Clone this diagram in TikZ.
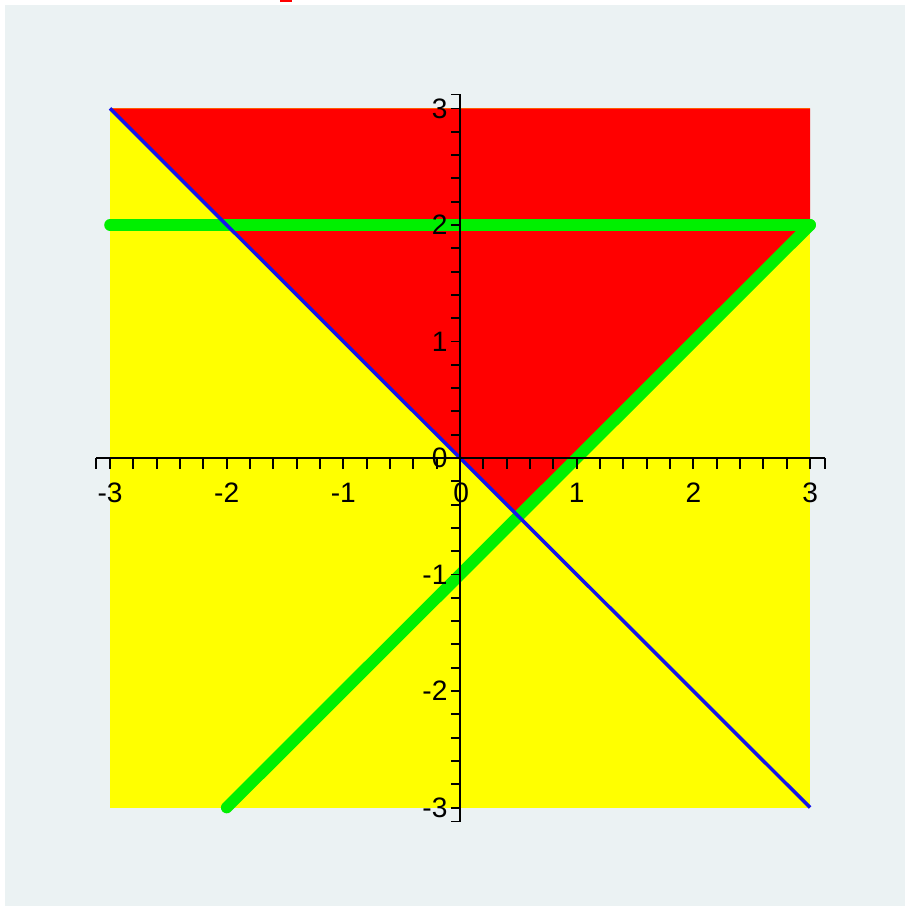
\documentclass[tikz,border=0pt]{standalone}
\usepackage{fontspec}
\setmainfont{Liberation Sans}
\definecolor{plotbg}{RGB}{235,242,243}
\definecolor{plotred}{RGB}{255,0,0}
\definecolor{plotyellow}{RGB}{255,255,0}
\definecolor{plotgreen}{RGB}{0,240,0}
\definecolor{plotblue}{RGB}{20,20,235}

\begin{document}
\begin{tikzpicture}[x=2.3333cm,y=2.33cm,
  greenline/.style={draw=plotgreen,line width=6.6pt,line cap=round},
  axisline/.style={draw=black,line width=1.1pt},
  ticklab/.style={font=\fontsize{16}{16}\selectfont,inner sep=0pt,text=black}]
\useasboundingbox (-3.943,-3.845) rectangle (3.806,3.931);
\fill[white] (-3.943,-3.845) rectangle (3.806,3.931);
\fill[plotbg] (-3.900,-3.95) rectangle (3.90,3.888);
\fill[plotred] (-1.543,3.914) rectangle (-1.440,3.931);

% regions
\fill[plotyellow] (-3,-3) rectangle (3,3);
\fill[plotred] (-3,3) -- (3,3) -- (3,2) -- (0.5,-0.5) -- cycle;

% lines
\draw[greenline] (-3,2) -- (3,2);
\draw[greenline] (-2,-3) -- (3,2);
\draw[draw=plotblue,line width=2pt] (-3,3) -- (3,-3);

% axes
\draw[axisline] (-3.12,0) -- (3.13,0);
\draw[axisline] (0,-3.12) -- (0,3.12);
\foreach \k in {-15,...,15} {
  \draw[axisline] (\k*0.2,0) -- ++(0,-0.094);
  \draw[axisline] (0,\k*0.2) -- ++(-0.077,0);
}
\draw[axisline] (-3.12,0) -- ++(0,-0.094);
\draw[axisline] (3.13,0) -- ++(0,-0.094);
\draw[axisline] (0,3.12) -- ++(-0.077,0);
\draw[axisline] (0,-3.12) -- ++(-0.077,0);

% tick labels
\node[ticklab] (xm3) at (-3,-0.30) {-3};
\node[ticklab] (xm2) at (-2,-0.30) {-2};
\node[ticklab] (xm1) at (-1,-0.30) {-1};
\node[ticklab] (x0) at (0.01,-0.30) {0};
\node[ticklab] (x1) at (1,-0.30) {1};
\node[ticklab] (x2) at (2,-0.30) {2};
\node[ticklab] (x3) at (3,-0.30) {3};

\node[ticklab,anchor=east] (ym3) at (-0.105,-3) {-3};
\node[ticklab,anchor=east] (ym2) at (-0.105,-2) {-2};
\node[ticklab,anchor=east] (ym1) at (-0.105,-1) {-1};
\node[ticklab,anchor=east] (y0) at (-0.105,0) {0};
\node[ticklab,anchor=east] (y1) at (-0.105,1) {1};
\node[ticklab,anchor=east] (y2) at (-0.105,2) {2};
\node[ticklab,anchor=east] (y3) at (-0.105,3) {3};

\end{tikzpicture}
\end{document}
